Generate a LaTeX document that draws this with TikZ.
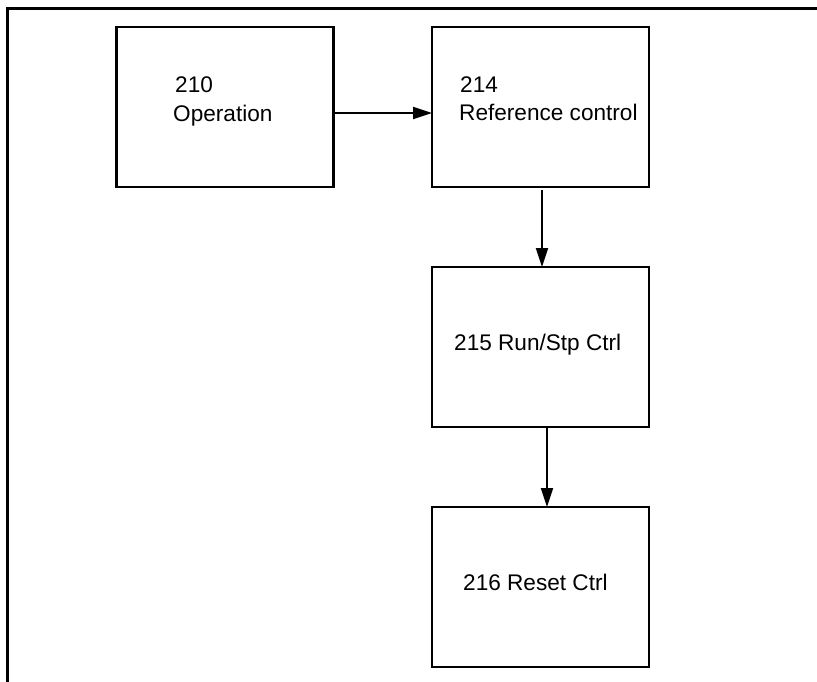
\documentclass[tikz,border=0pt]{standalone}
\usepackage{fontspec}
\setmainfont{Liberation Sans}
\usetikzlibrary{arrows.meta}
\begin{document}
\begin{tikzpicture}[x=1pt,y=-1pt,
 box/.style={draw,line width=2.3pt,minimum width=217pt,minimum height=160pt,inner sep=0pt,outer sep=0pt},
 lbl/.style={anchor=base west,inner sep=0pt,font=\fontsize{22.6}{26}\selectfont},
 arr/.style={line width=2pt,-{Triangle[length=19pt,width=12pt]}},
 frameline/.style={line width=3pt}]
\useasboundingbox (0,0) rectangle (817,682);
\draw[frameline] (7,682) -- (7,9) -- (817,9);
\node[box] (b210) at (225,107) {};
\node[box] (b214) at (540.5,107) {};
\node[box] (b215) at (540.5,347) {};
\node[box] (b216) at (540.5,587) {};
\node[lbl] (t210a) at (175,93) {210};
\node[lbl] (t210b) at (173,122) {Operation};
\node[lbl] (t214a) at (460,93) {214};
\node[lbl] (t214b) at (459,121) {Reference control};
\node[lbl] (t215) at (454,350) {215 Run/Stp Ctrl};
\node[lbl] (t216) at (463,590) {216 Reset Ctrl};
\draw[arr] ([yshift=-6pt]b210.east) -- ([yshift=-6pt]b214.west);
\draw[arr] ([xshift=1.5pt,yshift=-3pt]b214.south) -- ([xshift=1.5pt]b215.north);
\draw[arr] ([xshift=6.5pt]b215.south) -- ([xshift=6.5pt]b216.north);
\end{tikzpicture}
\end{document}
